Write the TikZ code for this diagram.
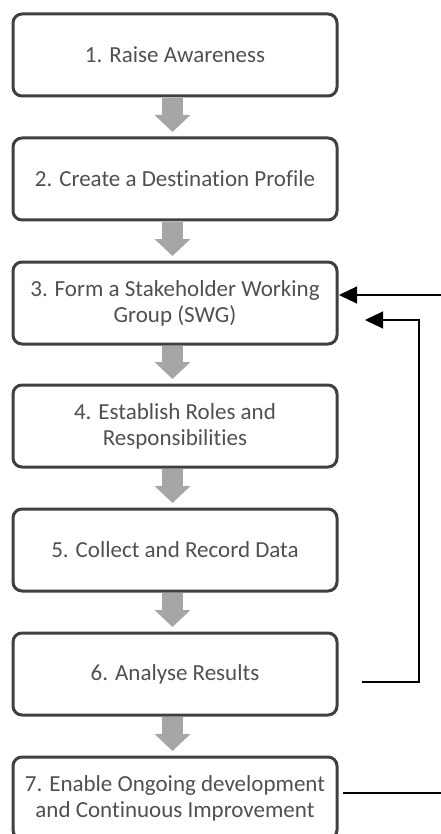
\documentclass[tikz,border=0pt]{standalone}
\usepackage{fontspec}
\setmainfont{Carlito}[Ligatures=NoCommon]
\usetikzlibrary{calc,arrows.meta}

\definecolor{boxline}{RGB}{64,64,64}
\definecolor{boxtext}{RGB}{80,80,80}
\definecolor{downgray}{RGB}{166,166,166}

\tikzset{
  stepbox/.style={draw=boxline, line width=3pt, rounded corners=9pt,
    minimum width=324pt, minimum height=82pt, outer sep=0pt,
    align=center, text=boxtext, font=\fontsize{23}{26}\selectfont},
  downarrow/.style={draw=downgray, line width=21pt,
    -{Triangle[length=17pt,width=35pt]}},
  loopback/.style={draw=black, line width=1.2pt,
    -{Triangle[length=18pt,width=17pt]}}
}

\begin{document}
\begin{tikzpicture}[x=1pt,y=1pt]
\clip (0,0) rectangle (441,-834);

\node[stepbox] (s1) at (175,-55) {1. Raise Awareness};
\node[stepbox] (s2) at (175,-179) {2. Create a Destination Profile};
\node[stepbox] (s3) at (175,-303) {3. Form a Stakeholder Working\\Group (SWG)};
\node[stepbox] (s4) at (175,-426) {4. Establish Roles and\\Responsibilities};
\node[stepbox] (s5) at (175,-550) {5. Collect and Record Data};
\node[stepbox] (s6) at (175,-674) {6. Analyse Results};
\node[stepbox] (s7) at (175,-798) {7. Enable Ongoing development\\and Continuous Improvement};

% gray arrows down the chain
\foreach \a/\b in {s1/s2,s2/s3,s3/s4,s4/s5,s5/s6,s6/s7}
  \draw[downarrow] ($(\a.south)+(-2.5,-2)$) -- ($(\b.north)+(-2.5,6)$);

\draw[loopback] ($(s7.east)+(6,5)$) -- ++(130,0) |- ($(s3.east)+(2,8)$); % 7 - 3
\draw[loopback] ($(s6.east)+(25,-8)$) -- ++(57,0) |- ($(s3.east)+(28,-17)$); % 6 - 3

\end{tikzpicture}
\end{document}
